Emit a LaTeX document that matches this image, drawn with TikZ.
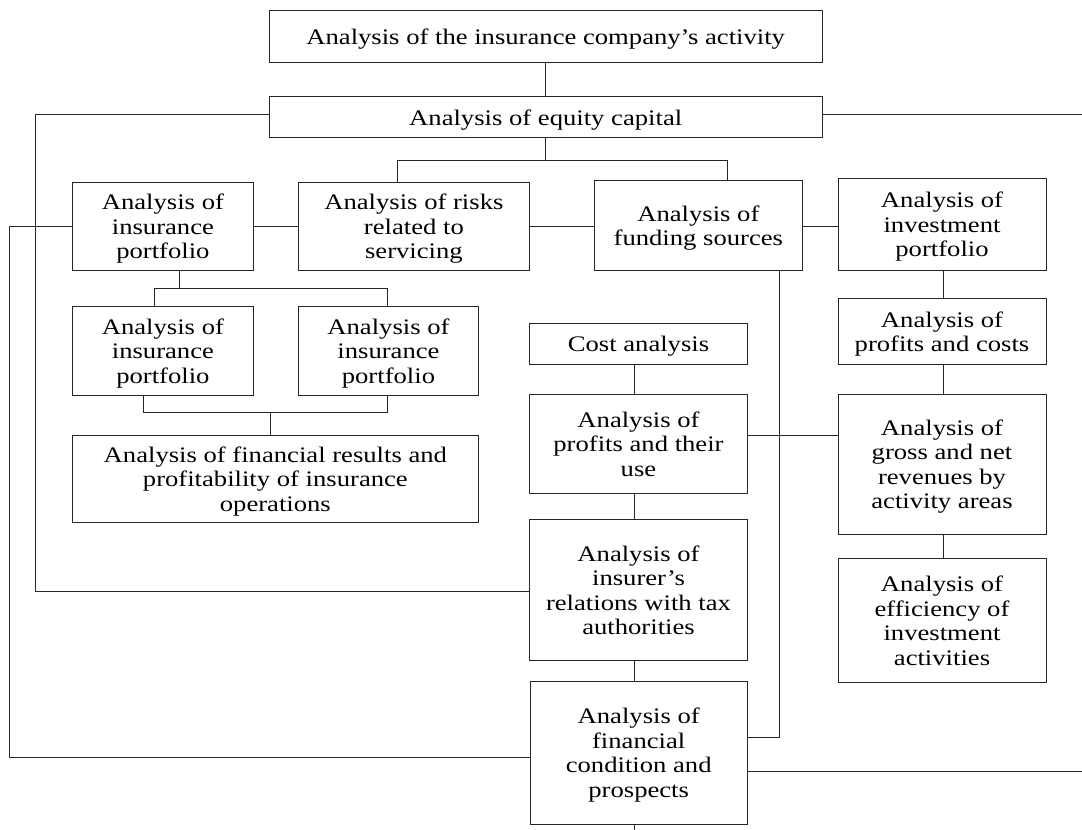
\documentclass[tikz,border=0pt]{standalone}
\usepackage{fontspec}
\setmainfont[FakeStretch=1.2]{Liberation Serif}
\begin{document}
\begin{tikzpicture}[x=1pt,y=-1pt,
  box/.style={draw=black!85, line width=1pt, fill=white, inner sep=0pt, align=center,
    text depth=0pt, font=\fontsize{22.2}{24.5}\selectfont},
  conn/.style={draw=black!85, line width=1pt}]
\useasboundingbox (0,0) rectangle (1082,830);
% boxes
\node[box, minimum width=553.4pt, minimum height=51.6pt] (top) at (545.7,36.5) {Analysis of the insurance company’s activity};
\node[box, minimum width=553.4pt, minimum height=41.3pt] (eq) at (545.7,117.3) {Analysis of equity capital};
\node[box, minimum width=181.8pt, minimum height=88.4pt] (ip1) at (162.9,226.5) {Analysis of\\insurance\\portfolio};
\node[box, minimum width=231.4pt, minimum height=88.4pt] (risk) at (413.9,226.5) {Analysis of risks\\related to\\servicing};
\node[box, minimum width=208.1pt, minimum height=90.4pt] (fund) at (698.35,225.5) {Analysis of\\funding sources};
\node[box, minimum width=208pt, minimum height=92.4pt] (inv) at (942,224.5) {Analysis of\\investment\\portfolio};
\node[box, minimum width=181.8pt, minimum height=88.6pt] (ip2) at (162.9,351) {Analysis of\\insurance\\portfolio};
\node[box, minimum width=180.5pt, minimum height=88.6pt] (ip3) at (388.45,351) {Analysis of\\insurance\\portfolio};
\node[box, minimum width=406.7pt, minimum height=87.7pt] (fin) at (275.35,478.85) {Analysis of financial results and\\profitability of insurance\\operations};
\node[box, minimum width=217.8pt, minimum height=41pt] (cost) at (638.5,343.8) {Cost analysis};
\node[box, minimum width=217.8pt, minimum height=99.4pt] (puse) at (638.5,444) {Analysis of\\profits and their\\use};
\node[box, minimum width=217.8pt, minimum height=141.4pt] (tax) at (638.5,590) {Analysis of\\insurer’s\\relations with tax\\authorities};
\node[box, minimum width=217.4pt, minimum height=142.3pt] (fc) at (638.7,752.85) {Analysis of\\financial\\condition and\\prospects};
\node[box, minimum width=208pt, minimum height=66.4pt] (pc) at (942,331.5) {Analysis of\\profits and costs};
\node[box, minimum width=208pt, minimum height=139.7pt] (gross) at (942,464.15) {Analysis of\\gross and net\\revenues by\\activity areas};
\node[box, minimum width=208pt, minimum height=124.4pt] (eff) at (942,620.5) {Analysis of\\efficiency of\\investment\\activities};
% coordinates
\coordinate (L1) at (35,114);
\coordinate (R1) at (1082,114);
\coordinate (bl) at (397,160.3);
\coordinate (br) at (727,160.3);
\coordinate (L2) at (9.6,226.7);
\coordinate (L3) at (9.6,757.3);
\coordinate (c1) at (179.8,288.7);
\coordinate (c2) at (154.6,288.7);
\coordinate (c3) at (387,288.7);
\coordinate (d1) at (143.3,412.7);
\coordinate (d2) at (387,412.7);
\coordinate (d3) at (270,412.7);
\coordinate (mx) at (634.7,0);
\coordinate (bot) at (634.7,830);
\coordinate (h1) at (0,435);
\coordinate (f1) at (779.5,737);
\coordinate (R2) at (1082,771.7);
\coordinate (t1) at (0,591);
\coordinate (vx) at (943.4,0);
% connectors
\draw[conn] (top.south) -- (eq.north);
\draw[conn] (eq.west |- L1) -- (L1) -- (L1 |- t1) -- (tax.west |- t1);
\draw[conn] (eq.east |- R1) -- (R1);
\draw[conn] (eq.south) -- (eq.south |- bl);
\draw[conn] (risk.north -| bl) -- (bl) -- (br) -- (fund.north -| br);
\draw[conn] (ip1.west |- L2) -- (L2) -- (L3) -- (fc.west |- L3);
\draw[conn] (ip1.east |- L2) -- (risk.west |- L2);
\draw[conn] (risk.east |- L2) -- (fund.west |- L2);
\draw[conn] (fund.east |- L2) -- (inv.west |- L2);
\draw[conn] (ip1.south -| c1) -- (c1);
\draw[conn] (ip2.north -| c2) -- (c2) -- (c3) -- (ip3.north -| c3);
\draw[conn] (ip2.south -| d1) -- (d1) -- (d2) -- (ip3.south -| d2);
\draw[conn] (d3) -- (fin.north -| d3);
\draw[conn] (cost.south -| mx) -- (puse.north -| mx);
\draw[conn] (puse.south -| mx) -- (tax.north -| mx);
\draw[conn] (tax.south -| mx) -- (fc.north -| mx);
\draw[conn] (fc.south -| mx) -- (bot);
\draw[conn] (puse.east |- h1) -- (gross.west |- h1);
\draw[conn] (fund.south -| f1) -- (f1) -- (fc.east |- f1);
\draw[conn] (fc.east |- R2) -- (R2);
\draw[conn] (inv.south -| vx) -- (pc.north -| vx);
\draw[conn] (pc.south -| vx) -- (gross.north -| vx);
\draw[conn] (gross.south -| vx) -- (eff.north -| vx);
\end{tikzpicture}
\end{document}
